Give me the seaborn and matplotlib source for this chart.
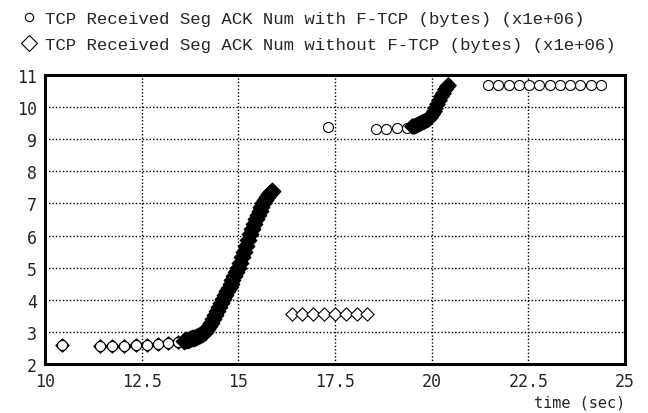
import numpy as np
import pandas as pd
import matplotlib
matplotlib.use("Agg")
from matplotlib import pyplot as plt
from matplotlib.lines import Line2D
import seaborn as sns

# sparse points, with F-TCP (small circles)
with_x = [10.44, 11.42, 11.73, 12.04, 12.35, 12.64, 12.92, 13.18, 13.44,
          17.32, 18.56, 18.83, 19.10, 19.37,
          21.46, 21.72, 21.99, 22.25, 22.52, 22.78, 23.05, 23.31, 23.58, 23.84, 24.11, 24.38]
with_y = [2.60, 2.56, 2.56, 2.57, 2.58, 2.60, 2.62, 2.64, 2.67,
          9.38, 9.33, 9.33, 9.34, 9.36,
          10.70, 10.70, 10.70, 10.70, 10.70, 10.70, 10.70, 10.70, 10.70, 10.70, 10.70, 10.70]

# sparse points, without F-TCP (diamonds)
without_x = [10.44, 11.42, 11.73, 12.04, 12.35, 12.64, 12.92, 13.18, 13.44,
             16.38, 16.66, 16.94, 17.22, 17.50, 17.78, 18.06, 18.33]
without_y = [2.60, 2.56, 2.56, 2.57, 2.58, 2.60, 2.62, 2.64, 2.67,
             3.56, 3.56, 3.56, 3.56, 3.56, 3.56, 3.56, 3.56]

# dense runs (marks merge into a solid band)
burst1_x = [13.60, 13.65, 13.70, 13.75, 13.80, 13.85, 13.90, 13.95, 14.00, 14.05,
            14.10, 14.15, 14.20, 14.25, 14.30, 14.35, 14.40, 14.45, 14.50, 14.55,
            14.60, 14.65, 14.70, 14.75, 14.80, 14.85, 14.90, 14.95, 15.00, 15.05,
            15.10, 15.15, 15.20, 15.25, 15.30, 15.35, 15.40, 15.45, 15.50, 15.55,
            15.60, 15.65, 15.70, 15.75, 15.80, 15.85, 15.88]
burst1_y = [2.72, 2.74, 2.76, 2.78, 2.80, 2.82, 2.84, 2.86, 2.89, 2.92,
            2.96, 3.00, 3.08, 3.18, 3.28, 3.40, 3.52, 3.64, 3.77, 3.90,
            4.02, 4.14, 4.26, 4.38, 4.50, 4.62, 4.74, 4.87, 5.00, 5.16,
            5.33, 5.50, 5.68, 5.86, 6.04, 6.20, 6.35, 6.50, 6.63, 6.76,
            6.88, 7.00, 7.10, 7.20, 7.28, 7.35, 7.39]
burst2_x = [19.50, 19.55, 19.60, 19.65, 19.70, 19.75, 19.80, 19.85, 19.90, 19.95,
            20.00, 20.05, 20.10, 20.15, 20.20, 20.25, 20.30, 20.35, 20.40, 20.42]
burst2_y = [9.40, 9.42, 9.45, 9.48, 9.51, 9.54, 9.57, 9.60, 9.64, 9.70,
            9.78, 9.88, 9.98, 10.10, 10.22, 10.34, 10.45, 10.55, 10.65, 10.69]

x_ticks = [10, 12.5, 15, 17.5, 20, 22.5, 25]
x_labels = ["10", "12.5", "15", "17.5", "20", "22.5", "25"]
y_ticks = [2, 3, 4, 5, 6, 7, 8, 9, 10, 11]

label_with = "TCP Received Seg ACK Num with F-TCP (bytes) (x1e+06)"
label_without = "TCP Received Seg ACK Num without F-TCP (bytes) (x1e+06)"

sns.set_style("white")
plt.rcParams['font.family'] = ['DejaVu Sans Mono', 'DejaVu Sans']

fig = plt.figure(figsize=(6.48, 4.14), dpi=100)
ax = fig.add_axes([0.0694, 0.1184, 0.895, 0.698])

df_with = pd.DataFrame({"t": with_x, "v": with_y})
df_without = pd.DataFrame({"t": without_x, "v": without_y})
df_b1 = pd.DataFrame({"t": burst1_x, "v": burst1_y})
df_b2 = pd.DataFrame({"t": burst2_x, "v": burst2_y})

sns.scatterplot(data=df_without, x="t", y="v", marker="D", s=46,
                facecolor="white", edgecolor="black", linewidth=0.8, ax=ax, zorder=3)
sns.scatterplot(data=df_with, x="t", y="v", marker="o", s=52,
                facecolor="white", edgecolor="black", linewidth=0.8, ax=ax, zorder=4)
sns.scatterplot(data=df_b1, x="t", y="v", marker="D", s=70,
                color="black", edgecolor="black", linewidth=1.0, ax=ax, zorder=5)
sns.scatterplot(data=df_b2, x="t", y="v", marker="D", s=60,
                color="black", edgecolor="black", linewidth=1.0, ax=ax, zorder=5)

ax.set_xlim(10, 25)
ax.set_ylim(2, 11)
ax.set_xticks(x_ticks)
ax.set_xticklabels(x_labels)
ax.set_yticks(y_ticks)
ax.grid(True, linestyle=(0, (1, 1.5)), color="black", linewidth=1.0)
ax.tick_params(length=0, labelsize=12, pad=6)
for s in ax.spines.values():
    s.set_color("black")
    s.set_linewidth(2.2)
ax.set_ylabel("")
ax.set_xlabel("time (sec)", loc="right", fontsize=11, labelpad=3)

handles = [
    Line2D([], [], marker="o", linestyle="", markersize=6, markerfacecolor="white",
           markeredgecolor="black", markeredgewidth=0.8),
    Line2D([], [], marker="D", linestyle="", markersize=8, markerfacecolor="white",
           markeredgecolor="black", markeredgewidth=0.8),
]
fig.legend(handles, [label_with, label_without], loc="upper left",
           bbox_to_anchor=(0.01, 1.005), frameon=False,
           prop={"family": "Liberation Mono", "size": 12.5},
           handlelength=1.0, handletextpad=0.4, labelspacing=0.65, borderpad=0.3)

fig.savefig("out.png", dpi=100)
